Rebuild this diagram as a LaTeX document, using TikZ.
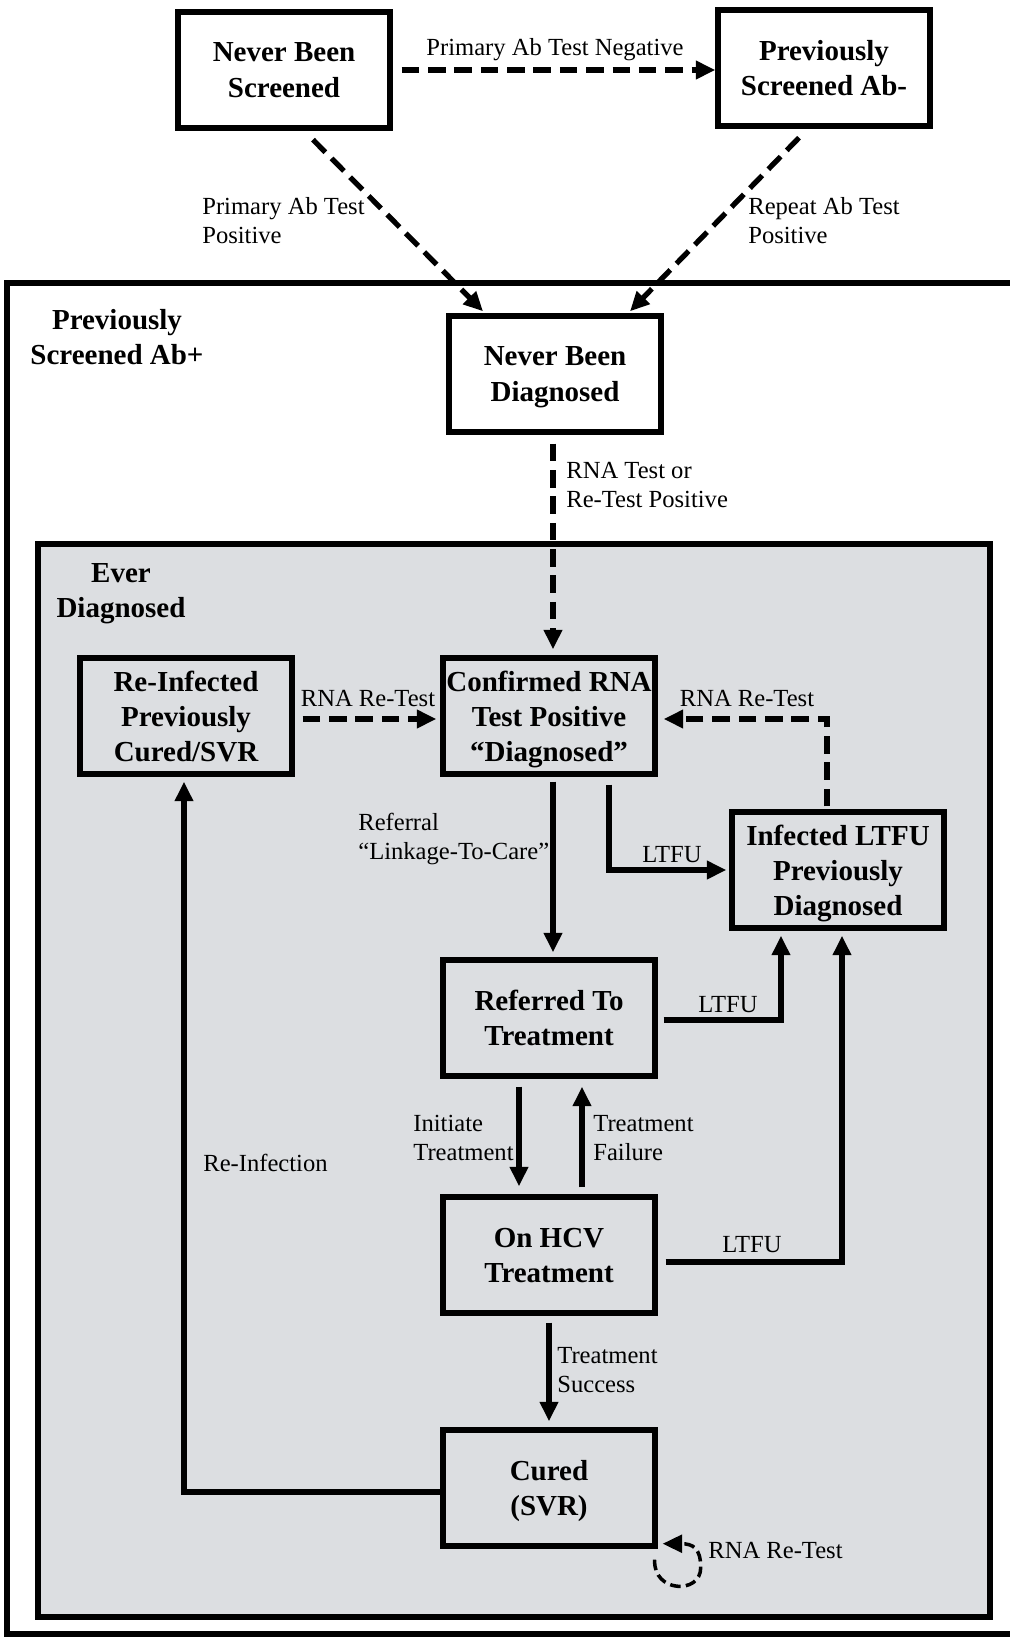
\documentclass[tikz,border=0pt]{standalone}
\usepackage{fontspec}
\setmainfont{Liberation Serif}
\usepackage{xcolor}
\usepackage{tikz}
\usetikzlibrary{arrows.meta,calc}
\definecolor{everfill}{RGB}{220,222,225}

\begin{document}
\begin{tikzpicture}[x=0.02cm, y=-0.02cm,
		state/.style={draw, line width=3.1pt, minimum width=4.24cm, minimum height=2.32cm,
		              inner sep=1pt, text depth=0pt, align=center, font=\fontsize{16.5}{20}\selectfont\bfseries},
		region/.style={inner sep=0pt, align=center, font=\fontsize{16.5}{20}\selectfont\bfseries},
		lbl/.style={inner sep=0pt, align=left, font=\fontsize{14}{16.5}\selectfont},
		flow/.style={line width=3pt, -{Triangle[length=11pt,width=10pt]}},
		retest/.style={flow, dash pattern=on 10pt off 5pt}]
		\fill[white] (0,0) rectangle (1010,1637);
		\useasboundingbox (0,0) rectangle (1010,1637);
		% screened Ab+ and ever diagnosed areas
		\draw[line width=3.1pt] (1020,283) -| (7,1634) -- (1020,1634);
		\draw[line width=3.1pt, fill=everfill] (38,544) rectangle (990,1617);
		\node[region] (abpos) at (117,337) {Previously\\Screened Ab+};
		\node[region] (everdx) at (121,594) {Ever\\Diagnosed};
		% states
		\node[state] (nbs) at (284,70) {Never Been\\Screened};
		\node[state] (psa) at (824,68) {Previously\\Screened Ab-};
		\node[state] (nbd) at (555,374) {Never Been\\Diagnosed};
		\node[state] (conf) at (549,716) {Confirmed RNA\\Test Positive\\``Diagnosed''};
		\node[state] (reinf) at (186,716) {Re-Infected\\Previously\\Cured/SVR};
		\node[state] (ltfu) at (838,870) {Infected LTFU\\Previously\\Diagnosed};
		\node[state] (ref) at (549,1018) {Referred To\\Treatment};
		\node[state] (hcv) at (549,1255) {On HCV\\Treatment};
		\node[state] (cured) at (549,1488) {Cured\\(SVR)};
		% transitions
		\draw[retest] ($(nbs.east)+(9,0)$) -- (psa.west |- nbs.east);
		\draw[retest] ($(nbs.south)+(29,9)$) -- ($(nbd.north)+(-72,-2)$);
		\draw[retest] ($(psa.south)+(-25,9)$) -- ($(nbd.north)+(75,-2)$);
		\draw[retest] ($(nbd.south)+(-2,9)$) -- ($(conf.north)+(4,-6)$);
		\draw[retest] ($(reinf.east)+(8,3)$) -- ($(conf.west)+(-4,3)$);
		\draw[retest] ($(ltfu.north)+(-11,-3)$) |- ($(conf.east)+(6,3)$);
		\draw[flow] ($(conf.south)+(4,5)$) -- ($(ref.north)+(4,-5)$);
		\draw[flow] ($(conf.south)+(60,8)$) |- ($(ltfu.west)+(-3,0)$);
		\draw[flow] ($(ref.east)+(6,2)$) -| ($(ltfu.south)+(-57,5)$);
		\draw[flow] ($(ref.south)+(-30,8)$) -- ($(hcv.north)+(-30,-8)$);
		\draw[flow] ($(hcv.north)+(33,-7)$) -- ($(ref.south)+(33,8)$);
		\draw[flow] ($(hcv.east)+(8,7)$) -| ($(ltfu.south)+(4,5)$);
		\draw[flow] ($(hcv.south)+(0,7)$) -- ($(cured.north)+(0,-6)$);
		\draw[flow] ($(cured.west)+(0,4)$) -| ($(reinf.south)+(-2,5)$);
		\draw[retest, line width=2pt, dash pattern=on 6pt off 3pt]
			($(cured.south east)+(-3,11)$) .. controls +(-2,33) and +(0,27) .. ($(cured.south east)+(43,19)$)
			.. controls +(0,-20) and +(30,0) .. ($(cured.south east)+(5,-5)$);
		% transition labels
		\node[lbl] (negl) at (555,50) {Primary Ab Test Negative};
		\node[lbl, anchor=west] (posl) at (202,221) {Primary Ab Test\\Positive};
		\node[lbl, anchor=west] (repl) at (748,221) {Repeat Ab Test\\Positive};
		\node[lbl, anchor=west] (rnal) at (566,485) {RNA Test or\\Re-Test Positive};
		\node[lbl] (rtl) at (368,698) {RNA Re-Test};
		\node[lbl] (rtr) at (747,698) {RNA Re-Test};
		\node[lbl, anchor=west] (refl) at (358,839) {Referral\\``Linkage-To-Care''};
		\foreach \lx/\ly [count=\k] in {672/855, 728/1005, 752/1245}
			\node[lbl] (ltfulbl\k) at (\lx,\ly) {LTFU};
		\node[lbl, anchor=west] (initl) at (413,1138) {Initiate\\Treatment};
		\node[lbl, anchor=west] (faill) at (593,1138) {Treatment\\Failure};
		\node[lbl, anchor=west] (succl) at (557,1370) {Treatment\\Success};
		\node[lbl, anchor=west] (reinfl) at (203,1163) {Re-Infection};
		\node[lbl, anchor=west] (loopl) at (708,1550) {RNA Re-Test};
	\end{tikzpicture}
\end{document}
